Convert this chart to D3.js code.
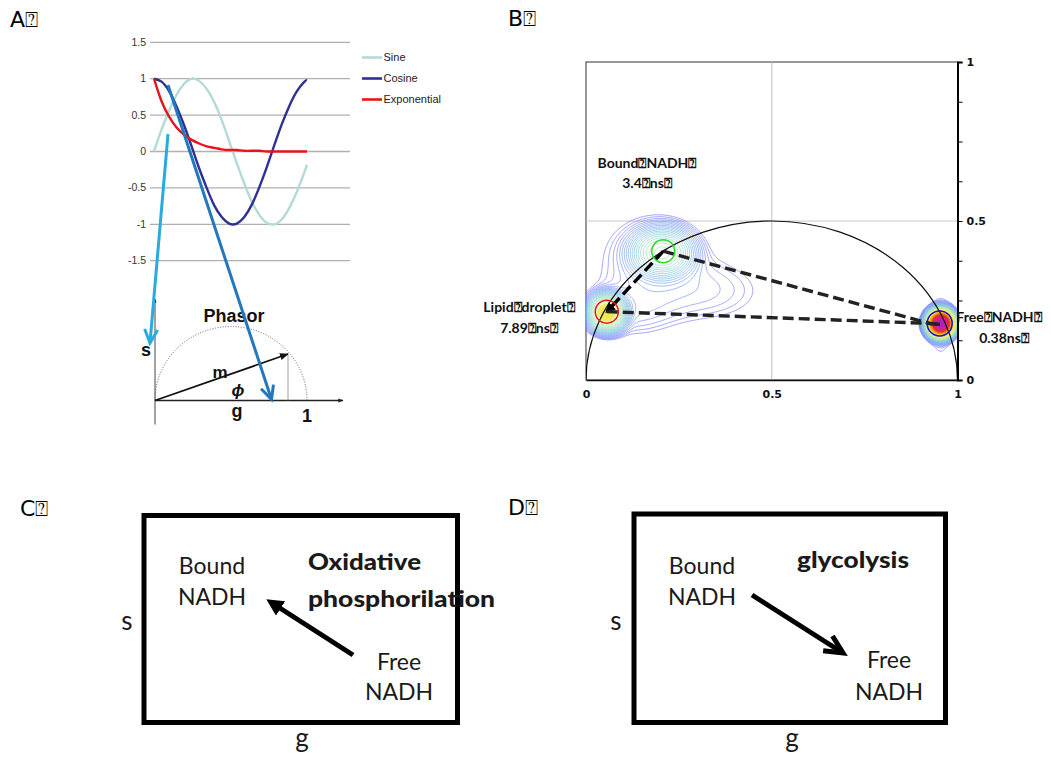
<!DOCTYPE html>
<html>
<head>
<meta charset="utf-8">
<script src="https://cdn.jsdelivr.net/npm/d3@7"></script>
<style>
  body { margin: 0; background: #fff; }
  svg { display: block; }
  .narrow { font-family: "Liberation Sans Narrow", "Liberation Sans", Arial, sans-serif; }
  .calib { font-family: Lato, "Open Sans", sans-serif; }
</style>
</head>
<body>
<svg id="fig" width="1051" height="757"></svg>
<script>
var tVals   = [0, 0.3, 0.6, 0.9, 1.2, 1.5, 1.8, 2.1, 2.4, 2.7, 3.0, 3.3, 3.6, 3.9, 4.2, 4.5, 4.8, 5.1, 5.4, 5.7, 6.0, 6.1];
var sineVals = [0, 0.30, 0.56, 0.78, 0.93, 1.00, 0.97, 0.86, 0.68, 0.43, 0.14, -0.16, -0.44, -0.69, -0.87, -0.98, -1.00, -0.93, -0.77, -0.55, -0.28, -0.18];
var cosVals  = [1, 0.96, 0.83, 0.62, 0.36, 0.07, -0.23, -0.50, -0.74, -0.90, -0.99, -0.99, -0.90, -0.73, -0.49, -0.21, 0.09, 0.38, 0.63, 0.83, 0.96, 0.98];
var expVals  = [1, 0.69, 0.48, 0.33, 0.23, 0.16, 0.11, 0.07, 0.05, 0.03, 0.02, 0.02, 0.01, 0.01, 0.01, 0, 0, 0, 0, 0, 0, 0];
var seriesNames = ["Sine", "Cosine", "Exponential"];
var seriesColors = ["#b3d9d9", "#2e3192", "#e8141c"];
var yTicksA = [1.5, 1, 0.5, 0, -0.5, -1, -1.5];

// ---- panel B data: phasor positions (g, s) and lifetime labels
var speciesNames = ["Lipid droplet", "Bound NADH", "Free NADH"];
var speciesG = [0.056, 0.208, 0.952];
var speciesS = [0.215, 0.405, 0.178];
var speciesLife = ["7.89\u2370ns\u2370", "3.4\u2370ns\u2370", "0.38ns\u2370"];
var circleColors = ["#e8141c", "#22dd22", "#1010e0"];
// density clusters: centre g, centre s, spread g, spread s, peak
var clusterG  = [0.056, 0.205, 0.955, 0.955, 0.17, 0.33, 0.12];
var clusterS  = [0.212, 0.400, 0.178, 0.170, 0.38, 0.28, 0.22];
var clusterSg = [0.022, 0.040, 0.0145, 0.022, 0.10, 0.11, 0.08];
var clusterSs = [0.025, 0.037, 0.017, 0.075, 0.10, 0.07, 0.06];
var clusterPk = [4.0, 1.0, 60, 0.035, 0.04, 0.035, 0.035];
var bTicks = [0, 0.5, 1];

var F = "\u2370";
var svg = d3.select("#fig");
svg.append("rect").attr("width", 1051).attr("height", 757).attr("fill", "#fff");

// panel letters
[["A", 10, 27], ["B", 508, 26], ["C", 20, 516], ["D", 508, 515]].forEach(function (p) {
    svg.append("text").attr("x", p[1]).attr("y", p[2])
        .attr("font-family", "DejaVu Sans, sans-serif").attr("font-size", 22)
        .text(p[0] + F);
});

// ================= PANEL A =================
var xA = d3.scaleLinear().domain([0, 6.1]).range([154, 307]);
var yA = d3.scaleLinear().domain([-1.5, 1.5]).range([260.7, 42.3]);
var gA = svg.append("g");

gA.selectAll("line.grid").data(yTicksA).enter().append("line")
    .attr("x1", 150).attr("x2", 350)
    .attr("y1", function (d) { return yA(d); }).attr("y2", function (d) { return yA(d); })
    .attr("stroke", "#b0b0b0").attr("stroke-width", 1.3);
gA.selectAll("text.tk").data(yTicksA).enter().append("text")
    .attr("class", "narrow").attr("x", 146).attr("y", function (d) { return yA(d) + 3.5; })
    .attr("text-anchor", "end").attr("font-size", 10.5).attr("fill", "#333")
    .text(function (d) { return d; });

var lineA = d3.line().curve(d3.curveNatural)
    .x(function (d, i) { return xA(tVals[i]); })
    .y(function (d) { return yA(d); });
[sineVals, cosVals, expVals].forEach(function (vals, k) {
    gA.append("path").attr("d", lineA(vals)).attr("fill", "none")
        .attr("stroke", seriesColors[k]).attr("stroke-width", 2.4);
});

// legend
seriesNames.forEach(function (n, k) {
    var y = 57.5 + k * 21;
    gA.append("line").attr("x1", 362).attr("x2", 382).attr("y1", y).attr("y2", y)
        .attr("stroke", seriesColors[k]).attr("stroke-width", 2.6);
    gA.append("text").attr("class", "narrow").attr("x", 383.5).attr("y", y + 3.8)
        .attr("font-size", 11).attr("fill", "#222").text(n);
});

// phasor sketch
var ox = 155, oy = 400.5;
var defs = svg.append("defs");
defs.append("marker").attr("id", "tri").attr("viewBox", "0 0 10 10").attr("refX", 9).attr("refY", 5)
    .attr("markerWidth", 5).attr("markerHeight", 5).attr("orient", "auto")
    .append("path").attr("d", "M0,1 L10,5 L0,9 Z").attr("fill", "#111");
defs.append("marker").attr("id", "triS").attr("viewBox", "0 0 10 10").attr("refX", 9).attr("refY", 5)
    .attr("markerWidth", 4).attr("markerHeight", 4).attr("orient", "auto")
    .append("path").attr("d", "M0,1 L10,5 L0,9 Z").attr("fill", "#222");

gA.append("line").attr("x1", ox).attr("y1", oy + 24).attr("x2", ox).attr("y2", 299)
    .attr("stroke", "#444").attr("stroke-width", 1).attr("marker-end", "url(#triS)");
gA.append("line").attr("x1", ox).attr("y1", oy).attr("x2", 343).attr("y2", oy)
    .attr("stroke", "#222").attr("stroke-width", 1.3).attr("marker-end", "url(#triS)");
gA.append("path").attr("d", "M" + ox + "," + oy + " A76,74 0 0 1 307," + oy)
    .attr("fill", "none").attr("stroke", "#555").attr("stroke-width", 0.9).attr("stroke-dasharray", "1,1.6");
gA.append("line").attr("x1", 288).attr("y1", 355).attr("x2", 288).attr("y2", oy)
    .attr("stroke", "#888").attr("stroke-width", 0.8);
gA.append("line").attr("x1", ox).attr("y1", oy).attr("x2", 288).attr("y2", 354)
    .attr("stroke", "#111").attr("stroke-width", 1.8).attr("marker-end", "url(#tri)");

[["Phasor", 234, 322, 18, "normal"], ["s", 146, 356, 18, "normal"], ["m", 220, 378, 17, "normal"],
 ["\u03D5", 238, 396, 17, "italic"], ["g", 237, 417, 18, "normal"], ["1", 307, 422, 18, "normal"]]
    .forEach(function (t) {
        gA.append("text").attr("x", t[1]).attr("y", t[2]).attr("text-anchor", "middle")
            .attr("font-family", "Liberation Sans, Arial, sans-serif").attr("font-weight", "bold")
            .attr("font-style", t[4]).attr("font-size", t[3]).attr("fill", "#111").text(t[0]);
    });

// blue annotation arrows
function vArrow(g, x1, y1, x2, y2, col, w, len) {
    var a = Math.atan2(y2 - y1, x2 - x1), sp = 0.45;
    g.append("line").attr("x1", x1).attr("y1", y1).attr("x2", x2).attr("y2", y2)
        .attr("stroke", col).attr("stroke-width", w);
    g.append("path").attr("d",
        "M" + (x2 - len * Math.cos(a - sp)) + "," + (y2 - len * Math.sin(a - sp)) +
        " L" + x2 + "," + y2 +
        " L" + (x2 - len * Math.cos(a + sp)) + "," + (y2 - len * Math.sin(a + sp)))
        .attr("fill", "none").attr("stroke", col).attr("stroke-width", w).attr("stroke-linejoin", "miter");
}
vArrow(gA, 168, 134, 150, 343, "#29abe2", 3, 15);
vArrow(gA, 168, 85, 271.5, 399.5, "#2378bd", 3, 15);

// ================= PANEL B =================
var xB = d3.scaleLinear().domain([0, 1]).range([586, 957.5]);
var yB = d3.scaleLinear().domain([0, 1]).range([380, 62]);
var gB = svg.append("g");
defs.append("clipPath").attr("id", "clipB").append("rect")
    .attr("x", xB(0)).attr("y", yB(1)).attr("width", xB(1) - xB(0)).attr("height", yB(0) - yB(1));

gB.append("rect").attr("x", xB(0)).attr("y", yB(1)).attr("width", xB(1) - xB(0)).attr("height", yB(0) - yB(1))
    .attr("fill", "none").attr("stroke", "#333").attr("stroke-width", 1);
gB.append("line").attr("x1", xB(0.5)).attr("x2", xB(0.5)).attr("y1", yB(1)).attr("y2", yB(0))
    .attr("stroke", "#c0c0c0").attr("stroke-width", 1);
gB.append("line").attr("x1", xB(0)).attr("x2", xB(1)).attr("y1", yB(0.5)).attr("y2", yB(0.5))
    .attr("stroke", "#c8c8c8").attr("stroke-width", 1);

// density contours
var cell = 1.5;
var nx = Math.ceil((xB(1) - xB(0)) / cell), ny = Math.ceil((yB(0) - yB(1)) / cell);
var field = new Float64Array(nx * ny);
for (var j = 0; j < ny; j++) {
    for (var i = 0; i < nx; i++) {
        var g = xB.invert(xB(0) + (i + 0.5) * cell), s = yB.invert(yB(1) + (j + 0.5) * cell), v = 0;
        for (var c = 0; c < clusterG.length; c++) {
            var dg = (g - clusterG[c]) / clusterSg[c], ds = (s - clusterS[c]) / clusterSs[c];
            v += clusterPk[c] * Math.exp(-0.5 * (dg * dg + ds * ds));
        }
        field[j * nx + i] = v;
    }
}
var tMin = 0.02, tMax = 80, nLev = 40;
var levels = d3.range(nLev).map(function (k) { return tMin * Math.pow(tMax / tMin, k / (nLev - 1)); });
var levColor = d3.scaleLinear()
    .domain([0, 0.18, 0.32, 0.45, 0.56, 0.66, 0.74, 0.82, 0.9, 1])
    .range(["#7b7bff", "#7aa6f0", "#7ccad6", "#a6e0b0", "#ecec70", "#f7e22e", "#f6a21c", "#e8301e", "#d41ea4", "#8a1ee6"]);
function levPos(t) { return Math.log(t / tMin) / Math.log(tMax / tMin); }
var contours = d3.contours().size([nx, ny]).thresholds(levels)(field);
var proj = d3.geoTransform({
    point: function (x, y) { this.stream.point(xB(0) + x * cell, yB(1) + y * cell); }
});
var cPath = d3.geoPath(proj);
gB.append("g").attr("clip-path", "url(#clipB)")
    .selectAll("path").data(contours).enter().append("path")
    .attr("d", cPath)
    .attr("fill", function (d) { return levPos(d.value) >= 0.55 ? levColor(levPos(d.value)) : "none"; })
    .attr("stroke", function (d) { return levColor(levPos(d.value)); })
    .attr("stroke-width", 0.7);

// universal circle
gB.append("ellipse").attr("clip-path", "url(#clipB)")
    .attr("cx", xB(0.5)).attr("cy", yB(0)).attr("rx", xB(1) - xB(0.5)).attr("ry", yB(0) - yB(0.5))
    .attr("fill", "none").attr("stroke", "#111").attr("stroke-width", 1.2);

// axes
var axR = d3.axisRight(yB).tickValues(d3.range(0, 1.001, 0.125)).tickSize(5)
    .tickFormat(function (d) { return bTicks.indexOf(d) >= 0 ? d3.format("")(d) : ""; });
var axRg = gB.append("g").attr("transform", "translate(" + xB(1) + ",0)").call(axR);
axRg.select(".domain").attr("stroke", "#000").attr("stroke-width", 2);
axRg.selectAll("text").attr("font-family", "DejaVu Sans, sans-serif").attr("font-weight", "bold")
    .attr("font-size", 11).attr("x", 9).attr("fill", "#111");
var axB = d3.axisBottom(xB).tickValues(bTicks).tickSize(0).tickFormat(d3.format(""));
var axBg = gB.append("g").attr("transform", "translate(0," + yB(0) + ")").call(axB);
axBg.select(".domain").attr("stroke", "#111").attr("stroke-width", 1.3);
axBg.selectAll("text").attr("font-family", "DejaVu Sans, sans-serif").attr("font-weight", "bold")
    .attr("font-size", 11).attr("dy", "1.4em").attr("fill", "#111");

// trajectories
defs.append("marker").attr("id", "triB").attr("viewBox", "0 0 10 10").attr("refX", 8).attr("refY", 5)
    .attr("markerWidth", 3).attr("markerHeight", 3).attr("orient", "auto")
    .append("path").attr("d", "M0,0 L10,5 L0,10 Z").attr("fill", "#000");
var links = [[1, 0], [0, 2], [1, 2]];
links.forEach(function (l) {
    var a = l[0], b = l[1];
    gB.append("line")
        .attr("x1", xB(speciesG[a])).attr("y1", yB(speciesS[a]))
        .attr("x2", xB(speciesG[b]) - (b === 2 ? 10 : 0)).attr("y2", yB(speciesS[b]))
        .attr("stroke", b === 2 ? "#222" : "#000").attr("stroke-width", 3.4)
        .attr("stroke-dasharray", "11,5")
        .attr("marker-end", b === 0 ? "url(#triB)" : null);
    if (b === 2) {
        gB.append("line").attr("x1", xB(speciesG[b]) - 12).attr("y1", yB(speciesS[b]))
            .attr("x2", xB(speciesG[b])).attr("y2", yB(speciesS[b]) + 1)
            .attr("stroke", "#222").attr("stroke-width", 3.4);
    }
});
speciesNames.forEach(function (n, k) {
    gB.append("circle").attr("cx", xB(speciesG[k])).attr("cy", yB(speciesS[k]))
        .attr("r", k === 2 ? 12.5 : 11.5).attr("fill", "none")
        .attr("stroke", circleColors[k]).attr("stroke-width", 1.5);
});

// labels
var labPos = [[529, 311.5, 333], [647, 168, 188], [999, 321.5, 343]];
speciesNames.forEach(function (n, k) {
    var lab = gB.append("text").attr("class", "calib").attr("font-weight", "bold")
        .attr("font-size", 14).attr("text-anchor", "middle").attr("fill", "#111");
    lab.append("tspan").attr("x", labPos[k][0]).attr("y", labPos[k][1]).text(n.replace(" ", F) + F);
    lab.append("tspan").attr("x", labPos[k][0] + (k === 2 ? 5 : 0)).attr("y", labPos[k][2]).text(speciesLife[k]);
});

// ================= PANELS C and D =================
function schematic(x0, y0, w, h) {
    var g = svg.append("g");
    g.append("rect").attr("x", x0).attr("y", y0).attr("width", w).attr("height", h)
        .attr("fill", "none").attr("stroke", "#000").attr("stroke-width", 5);
    return g;
}
var gC = schematic(144, 515.5, 313.5, 207);
var gD = schematic(634, 514, 311.5, 208.5);

function txt(g, x, y, s, size, bold, anchor, len) {
    var t = g.append("text").attr("class", "calib").attr("x", x).attr("y", y)
        .attr("font-size", size).attr("font-weight", bold ? "900" : "normal")
        .attr("text-anchor", anchor || "middle").attr("fill", "#1a1a1a").text(s);
    if (len) t.attr("textLength", len).attr("lengthAdjust", "spacingAndGlyphs");
}
txt(gC, 212, 574, "Bound", 23); txt(gC, 212, 605, "NADH", 23);
txt(gC, 399, 670, "Free", 23); txt(gC, 399, 700, "NADH", 23);
txt(gC, 308, 570, "Oxidative", 23, true, "start", 113); txt(gC, 308, 607, "phosphorilation", 23, true, "start", 187);
txt(gC, 127, 630, "s", 26); txt(gC, 302, 747, "g", 26);

txt(gD, 702, 574, "Bound", 23); txt(gD, 702, 605, "NADH", 23);
txt(gD, 889, 668, "Free", 23); txt(gD, 889, 700, "NADH", 23);
txt(gD, 797, 568, "glycolysis", 23, true, "start", 112);
txt(gD, 616, 630, "s", 26); txt(gD, 792, 747, "g", 26);

// C arrow: filled head
defs.append("marker").attr("id", "triC").attr("viewBox", "0 0 10 10").attr("refX", 6).attr("refY", 5)
    .attr("markerWidth", 3.4).attr("markerHeight", 3.4).attr("orient", "auto")
    .append("path").attr("d", "M0,0 L10,5 L0,10 Z").attr("fill", "#000");
gC.append("line").attr("x1", 353).attr("y1", 655).attr("x2", 272).attr("y2", 603)
    .attr("stroke", "#000").attr("stroke-width", 5).attr("marker-end", "url(#triC)");
// D arrow: chevron head
vArrow(gD, 752, 595, 843, 653, "#000", 5, 20);
</script>
</body>
</html>
